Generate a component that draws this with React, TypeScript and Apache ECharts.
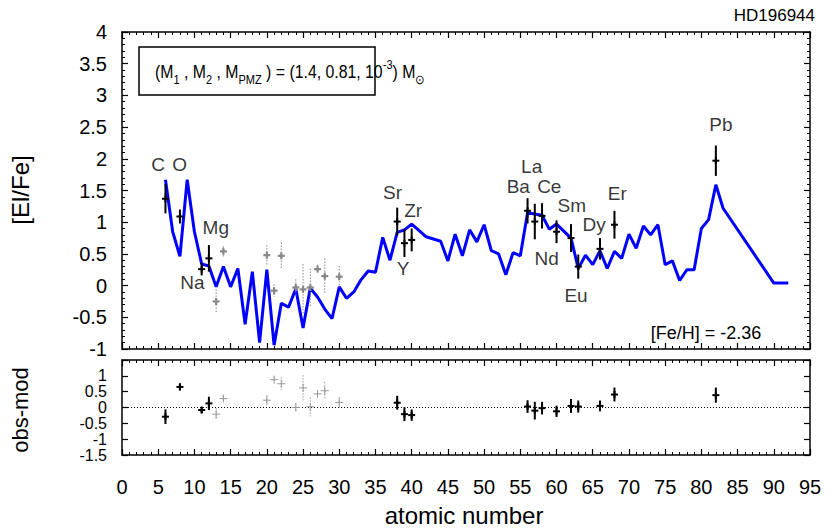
import React, { useEffect, useRef } from "react";
import * as echarts from "echarts";

// Model curve (atomic number, [El/Fe])
const modelZ = [6,7,8,9,10,11,12,13,14,15,16,17,18,19,20,21,22,23,24,25,26,27,28,29,30,31,32,33,34,35,36,37,38,39,40,41,42,44,45,46,47,48,49,50,51,52,53,54,55,56,57,58,59,60,62,63,64,65,66,67,68,69,70,71,72,73,74,75,76,77,78,79,80,81,82,83,90,92];
const modelVal = [1.67,0.85,0.46,1.67,0.85,0.34,0.31,-0.02,0.30,-0.02,0.27,-0.61,0.22,-0.90,0.25,-0.94,-0.28,-0.34,-0.05,-0.67,-0.04,-0.18,-0.37,-0.52,-0.02,-0.20,-0.10,0.09,0.23,0.21,0.76,0.40,0.84,0.88,0.97,0.87,0.77,0.70,0.39,0.81,0.47,0.88,0.69,0.96,0.55,0.50,0.17,0.52,0.47,1.15,1.13,1.11,0.89,0.97,0.75,0.27,0.48,0.33,0.55,0.27,0.54,0.43,0.81,0.59,0.94,0.80,0.96,0.33,0.39,0.08,0.25,0.25,0.90,1.04,1.59,1.22,0.04,0.04];

// Observed abundances (black, solid error bars)
const obsZ = [6, 8, 11, 12, 38, 39, 40, 56, 57, 58, 60, 62, 63, 66, 68, 82];
const obsVal = [1.37, 1.09, 0.26, 0.43, 1.01, 0.67, 0.72, 1.18, 1.01, 1.10, 0.85, 0.75, 0.30, 0.58, 0.96, 1.97];
const obsErr = [0.23, 0.11, 0.10, 0.21, 0.22, 0.22, 0.18, 0.20, 0.28, 0.20, 0.18, 0.22, 0.19, 0.17, 0.22, 0.24];
const obsResid = [-0.29, 0.65, -0.08, 0.13, 0.15, -0.21, -0.24, 0.03, -0.10, -0.02, -0.12, 0.05, 0.03, 0.05, 0.41, 0.39];

// Observed abundances (grey, dotted error bars)
const greyZ = [13, 14, 20, 21, 22, 24, 25, 26, 27, 28, 30];
const greyVal = [-0.25, 0.54, 0.48, -0.08, 0.47, -0.03, -0.06, -0.03, 0.26, 0.15, 0.14];
const greyErr = [0.19, 0.08, 0.16, 0.10, 0.21, 0.13, 0.40, 0.30, 0.07, 0.28, 0.17];
const greyResid = [-0.21, 0.28, 0.23, 0.88, 0.75, 0.00, 0.62, 0.02, 0.43, 0.53, 0.16];

// Element names and label anchors (data coordinates)
const elemNames = ["C", "O", "Mg", "Na", "Sr", "Zr", "Y", "Ba", "La", "Ce", "Sm", "Nd", "Eu", "Dy", "Er", "Pb"];
const elemLabelZ = [4.97, 7.97, 12.95, 9.73, 37.36, 40.21, 38.83, 54.72, 56.57, 59.0, 62.1, 58.64, 62.69, 65.18, 68.4, 82.69];
const elemLabelV = [1.91, 1.91, 0.92, 0.05, 1.47, 1.19, 0.27, 1.57, 1.88, 1.57, 1.26, 0.43, -0.15, 0.96, 1.46, 2.54];

const FONT = "Liberation Sans, Arial, Helvetica, sans-serif";

function errRender(color: string, width: number, dashed: boolean, half: number, crossW: number) {
  return (params: any, api: any) => {
    const x = api.value(0), y = api.value(1), e = api.value(2);
    const c = api.coord([x, y]);
    const hi = api.coord([x, y + e]);
    const lo = api.coord([x, y - e]);
    const barStyle: any = { stroke: color, lineWidth: dashed ? 1 : width };
    if (dashed) barStyle.lineDash = [1.5, 1.5];
    const crossStyle = { stroke: color, lineWidth: crossW };
    return {
      type: "group",
      children: [
        { type: "line", shape: { x1: c[0], y1: hi[1], x2: c[0], y2: lo[1] }, style: barStyle },
        { type: "line", shape: { x1: c[0] - half, y1: c[1], x2: c[0] + half, y2: c[1] }, style: crossStyle },
        { type: "line", shape: { x1: c[0], y1: c[1] - half, x2: c[0], y2: c[1] + half }, style: crossStyle },
      ],
    };
  };
}

export default function App() {
  const ref = useRef<HTMLDivElement>(null);
  useEffect(() => {
    if (!ref.current) return;
    const chart = echarts.init(ref.current, null, { renderer: "svg" });
    const L = 122, R = 17;
    const axisLine = { show: true, onZero: false, lineStyle: { color: "#000", width: 1.5 } };
    const mkX = (grid: number, pos: string, labels: boolean) => ({
      type: "value", gridIndex: grid, position: pos, min: 0, max: 95, interval: 5,
      axisLine, splitLine: { show: false },
      axisTick: { show: true, inside: true, length: 6, lineStyle: { color: "#000", width: 1.2 } },
      minorTick: { show: true, splitNumber: 5, length: 3, lineStyle: { color: "#000", width: 1 } },
      axisLabel: { show: labels, color: "#000", fontSize: 20, fontFamily: FONT, margin: 22 },
    });
    const mkY = (grid: number, pos: string, labels: boolean, min: number, max: number, minor: boolean) => ({
      type: "value", gridIndex: grid, position: pos, min, max, interval: 0.5,
      axisLine, splitLine: { show: false },
      axisTick: { show: true, inside: true, length: 6, lineStyle: { color: "#000", width: 1.2 } },
      minorTick: { show: minor, splitNumber: 5, length: 3, lineStyle: { color: "#000", width: 1 } },
      axisLabel: {
        show: labels, color: "#000", fontSize: grid === 1 ? 16 : 20, lineHeight: grid === 1 ? 15 : 20,
        fontFamily: FONT, margin: 15, showMinLabel: true,
        formatter: (v: number) => (grid === 1 && v === 1.5 ? "" : String(v)),
      },
    });

    const topBlack = obsZ.map((z, i) => [z, obsVal[i], obsErr[i]]);
    const topGrey = greyZ.map((z, i) => [z, greyVal[i], greyErr[i]]);
    const botBlack = obsZ.map((z, i) => [z, obsResid[i], obsErr[i]]);
    const botGrey = greyZ.map((z, i) => [z, greyResid[i], greyErr[i]]);

    chart.setOption({
      animation: false,
      grid: [
        { left: L, right: R, top: 32, height: 317 },
        { left: L, right: R, top: 360, height: 95 },
      ],
      xAxis: [mkX(0, "bottom", false), mkX(0, "top", false), mkX(1, "bottom", true), mkX(1, "top", false)],
      yAxis: [
        mkY(0, "left", true, -1, 4, true), mkY(0, "right", false, -1, 4, true),
        mkY(1, "left", true, -1.5, 1.5, false), mkY(1, "right", false, -1.5, 1.5, false),
      ],
      series: [
        {
          type: "line", xAxisIndex: 0, yAxisIndex: 0, symbol: "none",
          data: modelZ.map((z, i) => [z, modelVal[i]]),
          lineStyle: { color: "#0000ff", width: 3 }, z: 2,
        },
        { type: "custom", xAxisIndex: 0, yAxisIndex: 0, data: topGrey, renderItem: errRender("#888888", 2, true, 3.5, 2.2), z: 3 },
        { type: "custom", xAxisIndex: 0, yAxisIndex: 0, data: topBlack, renderItem: errRender("#000000", 2, false, 3.5, 2), z: 4 },
        {
          type: "line", xAxisIndex: 2, yAxisIndex: 2, symbol: "none", data: [[0, 0], [95, 0]],
          lineStyle: { color: "#000", width: 1, type: [1, 2] }, z: 1,
        },
        { type: "custom", xAxisIndex: 2, yAxisIndex: 2, data: botGrey, renderItem: errRender("#999999", 1, true, 4, 1), z: 3 },
        { type: "custom", xAxisIndex: 2, yAxisIndex: 2, data: botBlack, renderItem: errRender("#000000", 2, false, 3.5, 2), z: 4 },
        {
          type: "scatter", xAxisIndex: 0, yAxisIndex: 0, symbolSize: 1,
          itemStyle: { color: "transparent" },
          data: elemNames.map((n, i) => ({ name: n, value: [elemLabelZ[i], elemLabelV[i]] })),
          label: {
            show: true, position: "inside", formatter: (p: any) => p.name,
            color: "#000", fontSize: 19, fontFamily: FONT,
          },
          z: 5,
        },
      ],
      graphic: [
        {
          type: "text", right: 12, top: 7,
          style: { text: "HD196944", fill: "#000", fontSize: 17, fontFamily: FONT },
        },
        {
          type: "rect", shape: { x: 139, y: 47, width: 236, height: 48 },
          style: { fill: "#fff", stroke: "#000", lineWidth: 1.5 },
        },
        {
          type: "text", x: 155, y: 72, scaleX: 0.88,
          style: {
            text: "{n|(M}{s|1}{n| , M}{s|2}{n| , M}{s|PMZ}{n| ) = (1.4, 0.81, 10}{p|-3}{n|) M}{s|⊙}",
            align: "left", verticalAlign: "middle", fill: "#000", fontFamily: FONT,
            rich: {
              n: { fontSize: 18, lineHeight: 28, fontFamily: FONT, verticalAlign: "middle" },
              s: { fontSize: 12.5, lineHeight: 13, fontFamily: FONT, verticalAlign: "bottom" },
              p: { fontSize: 12.5, lineHeight: 13, fontFamily: FONT, verticalAlign: "top" },
            },
          },
        },
        {
          type: "text", x: 706, y: 333,
          style: { text: "[Fe/H] = -2.36", align: "center", verticalAlign: "middle", fill: "#000", fontSize: 18, fontFamily: FONT },
        },
        {
          type: "text", x: 20, y: 190, rotation: Math.PI / 2,
          style: { text: "[El/Fe]", align: "center", verticalAlign: "middle", fill: "#000", fontSize: 24, fontFamily: FONT },
        },
        {
          type: "text", x: 20, y: 410, rotation: Math.PI / 2,
          style: { text: "obs-mod", align: "center", verticalAlign: "middle", fill: "#000", fontSize: 22, fontFamily: FONT },
        },
        {
          type: "text", x: 464, y: 515,
          style: { text: "atomic number", align: "center", verticalAlign: "middle", fill: "#000", fontSize: 24, fontFamily: FONT },
        },
      ],
    });
    return () => chart.dispose();
  }, []);
  return <div ref={ref} style={{ width: 827, height: 530, position: "absolute", left: 0, top: 0 }} />;
}
